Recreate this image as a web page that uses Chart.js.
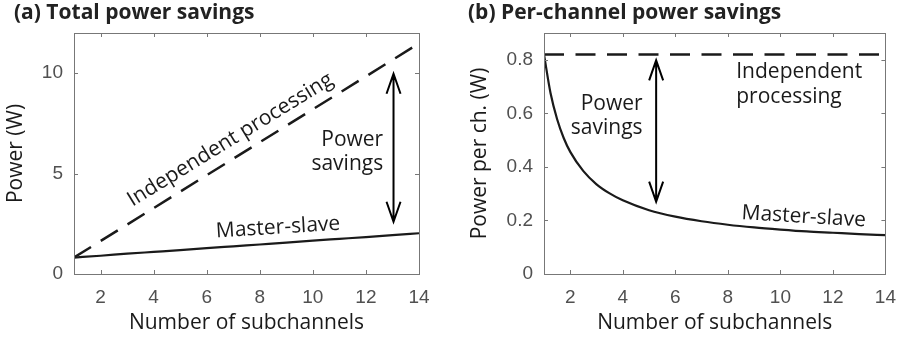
<!DOCTYPE html>
<html>
<head>
<meta charset="utf-8">
<script src="https://cdn.jsdelivr.net/npm/chart.js@4.4.1/dist/chart.umd.min.js"></script>
<style>
  html, body { margin: 0; padding: 0; background: #fff; }
  #wrap { display: flex; width: 908px; height: 337px; }
  .box { width: 454px; height: 337px; position: relative; }
</style>
</head>
<body>
<div id="wrap">
  <div class="box"><canvas id="chartA" width="454" height="337"></canvas></div>
  <div class="box"><canvas id="chartB" width="454" height="337"></canvas></div>
</div>
<script>
// number of subchannels
const subchannels = [1, 2, 3, 4, 5, 6, 7, 8, 9, 10, 11, 12, 13, 14];
// (a) total power, W
const independentTotal = [0.82, 1.64, 2.46, 3.28, 4.10, 4.92, 5.74, 6.56, 7.38, 8.20, 9.02, 9.84, 10.66, 11.48];
const masterSlaveTotal = [0.82, 0.91, 1.01, 1.10, 1.19, 1.29, 1.38, 1.47, 1.56, 1.66, 1.75, 1.84, 1.94, 2.03];
// (b) power per channel, W
const subchannelsFine = [1, 1.25, 1.5, 1.75, 2, 2.5, 3, 3.5, 4, 5, 6, 7, 8, 9, 10, 11, 12, 13, 14];
const masterSlavePerCh = [0.82, 0.675, 0.578, 0.508, 0.456, 0.384, 0.335, 0.301, 0.275, 0.238, 0.214, 0.197, 0.184, 0.174, 0.166, 0.159, 0.154, 0.149, 0.145];
const independentPerCh = [0.82, 0.82, 0.82, 0.82, 0.82, 0.82, 0.82, 0.82, 0.82, 0.82, 0.82, 0.82, 0.82, 0.82];

// tick labels
const xTicks = [2, 4, 6, 8, 10, 12, 14];
const yTicksA = [0, 5, 10];
const yTicksB = [0, 0.2, 0.4, 0.6, 0.8];
const yTickLabelsB = ['0', '0.2', '0.4', '0.6', '0.8'];

const lineColor = '#1a1a1a';
const textFont = '"Open Sans", sans-serif';
const tickFont = { family: '"Liberation Sans", Arial, sans-serif', size: 19 };

function toPoints(xs, ys) {
    return xs.map((x, i) => ({ x: x, y: ys[i] }));
}

// box with inward ticks + annotation texts/arrows
const framePlugin = {
    id: 'frame',
    afterDraw(chart, args, opts) {
        const ctx = chart.ctx;
        const a = chart.chartArea;
        const xs = chart.scales.x, ys = chart.scales.y;
        ctx.save();
        ctx.strokeStyle = '#777';
        ctx.lineWidth = 1;
        ctx.strokeRect(Math.round(a.left) + 0.5, Math.round(a.top) + 0.5,
            Math.round(a.right - a.left), Math.round(a.bottom - a.top));
        ctx.beginPath();
        xTicks.forEach(v => {
            const px = Math.round(xs.getPixelForValue(v)) + 0.5;
            ctx.moveTo(px, a.bottom); ctx.lineTo(px, a.bottom - 4);
            ctx.moveTo(px, a.top); ctx.lineTo(px, a.top + 4);
        });
        opts.yTicks.forEach(v => {
            const py = Math.round(ys.getPixelForValue(v)) + 0.5;
            ctx.moveTo(a.left, py); ctx.lineTo(a.left + 4, py);
            ctx.moveTo(a.right, py); ctx.lineTo(a.right - 4, py);
        });
        ctx.stroke();

        // panel title
        ctx.fillStyle = '#222';
        ctx.font = 'bold 21px ' + textFont;
        ctx.textAlign = 'left';
        ctx.textBaseline = 'middle';
        ctx.fillText(opts.title, 14, 13);

        // arrow
        const ar = opts.arrow;
        const ax = xs.getPixelForValue(ar.x);
        const ay1 = ys.getPixelForValue(ar.top);
        const ay2 = ys.getPixelForValue(ar.bottom);
        ctx.strokeStyle = '#000';
        ctx.lineWidth = 2;
        ctx.beginPath();
        ctx.moveTo(ax, ay1); ctx.lineTo(ax, ay2);
        ctx.moveTo(ax - 7, ay1 + 20); ctx.lineTo(ax, ay1); ctx.lineTo(ax + 7, ay1 + 20);
        ctx.moveTo(ax - 7, ay2 - 20); ctx.lineTo(ax, ay2); ctx.lineTo(ax + 7, ay2 - 20);
        ctx.stroke();

        // labels
        ctx.fillStyle = lineColor;
        ctx.font = '21px ' + textFont;
        opts.labels.forEach(l => {
            ctx.save();
            ctx.translate(xs.getPixelForValue(l.x), ys.getPixelForValue(l.y));
            ctx.rotate((l.angle || 0) * Math.PI / 180);
            ctx.textAlign = l.align || 'center';
            ctx.textBaseline = 'middle';
            ctx.fillText(l.text, 0, 0);
            ctx.restore();
        });
        ctx.restore();
    }
};

function makeChart(id, cfg) {
    return new Chart(document.getElementById(id).getContext('2d'), {
        type: 'line',
        data: {
            datasets: [
                {
                    label: 'Independent processing',
                    data: cfg.independent,
                    borderColor: lineColor,
                    borderWidth: 2.5,
                    borderDash: [20, 11.5],
                    pointRadius: 0,
                    fill: false
                },
                {
                    label: 'Master-slave',
                    data: cfg.masterSlave,
                    borderColor: lineColor,
                    borderWidth: 2.2,
                    pointRadius: 0,
                    cubicInterpolationMode: 'monotone',
                    fill: false
                }
            ]
        },
        options: {
            responsive: false,
            animation: false,
            events: [],
            layout: { padding: { top: 33, right: cfg.padRight, left: 0, bottom: 0 } },
            plugins: {
                legend: { display: false },
                tooltip: { enabled: false },
                frame: cfg.frame
            },
            scales: {
                x: {
                    type: 'linear',
                    min: 1,
                    max: 14,
                    grid: { display: false, drawTicks: false },
                    border: { display: false },
                    afterBuildTicks: s => { s.ticks = xTicks.map(v => ({ value: v })); },
                    afterFit: s => { s.height = 63; },
                    ticks: {
                        padding: 12,
                        color: '#505050',
                        font: tickFont,
                        maxRotation: 0,
                        callback: v => String(v)
                    },
                    title: {
                        display: true,
                        text: 'Number of subchannels',
                        color: '#1a1a1a',
                        font: { family: textFont, size: 21 },
                        padding: { top: 0, bottom: 1 }
                    }
                },
                y: {
                    min: 0,
                    max: cfg.yMax,
                    grid: { display: false, drawTicks: false },
                    border: { display: false },
                    afterBuildTicks: s => { s.ticks = cfg.frame.yTicks.map(v => ({ value: v })); },
                    afterFit: s => { s.width = cfg.yWidth; },
                    ticks: {
                        padding: 11,
                        color: '#505050',
                        font: tickFont,
                        callback: cfg.yLabel
                    },
                    title: {
                        display: true,
                        text: cfg.yTitle,
                        color: '#1a1a1a',
                        font: { family: textFont, size: 21 },
                        padding: { top: cfg.yTitlePad, bottom: 0 }
                    }
                }
            }
        },
        plugins: [framePlugin]
    });
}

makeChart('chartA', {
    independent: toPoints(subchannels, independentTotal),
    masterSlave: toPoints(subchannels, masterSlaveTotal),
    yMax: 12,
    yWidth: 74,
    padRight: 35,
    yTitle: 'Power (W)',
    yTitlePad: 3,
    yLabel: v => String(v),
    frame: {
        title: '(a) Total power savings',
        yTicks: yTicksA,
        arrow: { x: 13.04, top: 9.97, bottom: 2.6 },
        labels: [
            { text: 'Independent processing', x: 6.89, y: 6.68, angle: -31.5 },
            { text: 'Power', x: 12.65, y: 6.68, align: 'right' },
            { text: 'savings', x: 12.65, y: 5.47, align: 'right' },
            { text: 'Master-slave', x: 8.69, y: 2.31, angle: -3.5 }
        ]
    }
});

makeChart('chartB', {
    independent: toPoints(subchannels, independentPerCh),
    masterSlave: toPoints(subchannelsFine, masterSlavePerCh),
    yMax: 0.9,
    yWidth: 90,
    padRight: 19,
    yTitle: 'Power per ch. (W)',
    yTitlePad: 13,
    yLabel: v => yTickLabelsB[yTicksB.indexOf(v)],
    frame: {
        title: '(b) Per-channel power savings',
        yTicks: yTicksB,
        arrow: { x: 5.27, top: 0.798, bottom: 0.27 },
        labels: [
            { text: 'Independent', x: 8.32, y: 0.754, align: 'left' },
            { text: 'processing', x: 8.32, y: 0.661, align: 'left' },
            { text: 'Power', x: 4.755, y: 0.636, align: 'right' },
            { text: 'savings', x: 4.755, y: 0.545, align: 'right' },
            { text: 'Master-slave', x: 10.89, y: 0.2136, angle: 3.5 }
        ]
    }
});
</script>
</body>
</html>
